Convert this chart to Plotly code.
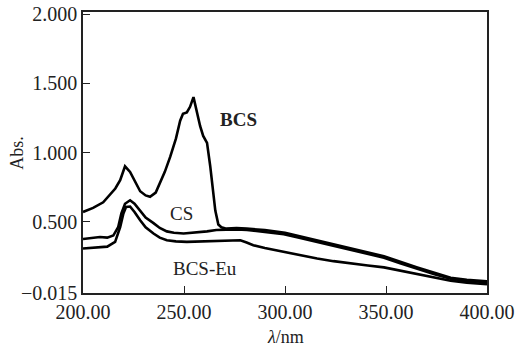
import plotly.graph_objects as go

# BCS spectrum
bcs_x = [200, 205, 210, 213.4, 216, 218.4, 220.8, 223.3, 226, 228.3, 231, 233.2, 236, 238.2, 240.5, 243.2, 246, 248.1, 249.5, 251.4, 253, 254.7, 256.5, 258, 259.5, 261.4, 263, 264.5, 265.5, 267, 268.5, 271, 276, 281, 290, 300, 316, 332, 349, 365.5, 382, 390, 400]
bcs_y = [0.57, 0.60, 0.64, 0.70, 0.74, 0.80, 0.90, 0.86, 0.78, 0.72, 0.69, 0.68, 0.71, 0.78, 0.86, 0.97, 1.10, 1.23, 1.28, 1.29, 1.33, 1.40, 1.28, 1.19, 1.12, 1.07, 0.90, 0.72, 0.58, 0.48, 0.46, 0.45, 0.455, 0.45, 0.44, 0.42, 0.365, 0.305, 0.25, 0.17, 0.095, 0.08, 0.07]

# CS spectrum
cs_x = [200, 204, 208.4, 212, 215, 217.4, 219, 220.8, 223.3, 225.5, 228.3, 231, 234.9, 238, 241.5, 245, 249.8, 255, 261.4, 266, 271.3, 276, 281.2, 290, 299.4, 307, 315.9, 324, 332.4, 341, 349, 357, 365.5, 374, 382, 390, 398.6, 400]
cs_y = [0.375, 0.38, 0.39, 0.385, 0.40, 0.46, 0.56, 0.63, 0.655, 0.63, 0.58, 0.53, 0.49, 0.455, 0.43, 0.42, 0.415, 0.42, 0.43, 0.44, 0.445, 0.445, 0.44, 0.425, 0.41, 0.385, 0.354, 0.325, 0.294, 0.265, 0.24, 0.20, 0.16, 0.12, 0.088, 0.072, 0.064, 0.062]

# BCS-Eu spectrum
eu_x = [200, 204, 208, 212, 215.9, 218.4, 220, 221.3, 223.3, 225.5, 228.3, 231, 234.9, 238, 241.5, 246, 251.4, 258, 266.3, 272, 277.9, 281, 284.3, 290, 299.4, 307, 315.9, 324, 332.4, 341, 349, 357, 365.5, 374, 382, 390, 398.6, 400]
eu_y = [0.306, 0.31, 0.313, 0.32, 0.354, 0.46, 0.56, 0.607, 0.61, 0.57, 0.51, 0.46, 0.415, 0.385, 0.366, 0.358, 0.354, 0.356, 0.359, 0.363, 0.366, 0.35, 0.33, 0.31, 0.282, 0.258, 0.234, 0.215, 0.198, 0.184, 0.17, 0.146, 0.122, 0.098, 0.074, 0.06, 0.05, 0.048]

x_ticks = [200, 250, 300, 350, 400]
x_tick_text = ["200.00", "250.00", "300.00", "350.00", "400.00"]
y_ticks = [-0.015, 0.5, 1.0, 1.5, 2.0]
y_tick_text = ["\u22120.015", "0.500", "1.000", "1.500", "2.000"]

labels = ["<b>BCS</b>", "CS", "BCS-Eu"]
label_x = [277, 249, 260.5]
label_y = [1.24, 0.56, 0.164]

font = "Liberation Serif, Times New Roman, serif"
line = dict(color="black", width=2.6)

fig = go.Figure()
for xs, ys, name in [(bcs_x, bcs_y, "BCS"), (cs_x, cs_y, "CS"), (eu_x, eu_y, "BCS-Eu")]:
    fig.add_trace(go.Scatter(x=xs, y=ys, mode="lines", line=line, name=name, showlegend=False))

for t, xv, yv in zip(labels, label_x, label_y):
    fig.add_annotation(x=xv, y=yv, text=t, showarrow=False,
                       font=dict(family=font, size=19, color="#222"))

# axis titles
fig.add_annotation(text="<i>λ</i>/nm", xref="paper", yref="paper", x=0.5, y=-0.155,
                   yanchor="middle", showarrow=False, font=dict(family=font, size=18, color="#222"))
fig.add_annotation(text="Abs.", xref="paper", yref="paper", x=-0.165, y=0.5,
                   textangle=-90, xanchor="center", showarrow=False,
                   font=dict(family=font, size=18, color="#222"))

fig.update_layout(
    width=516, height=348,
    margin=dict(l=83, r=29, t=12, b=55),
    paper_bgcolor="white", plot_bgcolor="white",
    font=dict(family=font, size=20, color="#222"),
)
fig.update_xaxes(range=[200, 400], tickvals=x_ticks, ticktext=x_tick_text,
                 ticks="inside", ticklen=7, tickwidth=1, tickcolor="#222",
                 showline=True, linecolor="#222", linewidth=1.5, mirror=True,
                 showgrid=False, zeroline=False, automargin=False)
fig.update_yaxes(range=[-0.015, 2.015], tickvals=y_ticks, ticktext=y_tick_text,
                 ticks="inside", ticklen=7, tickwidth=1, tickcolor="#222",
                 showline=True, linecolor="#222", linewidth=1.5, mirror=True,
                 showgrid=False, zeroline=False, automargin=False)

fig.write_html("out.html", config={"displayModeBar": False},
               post_script="document.body.style.margin='0';document.body.style.overflow='hidden';")
